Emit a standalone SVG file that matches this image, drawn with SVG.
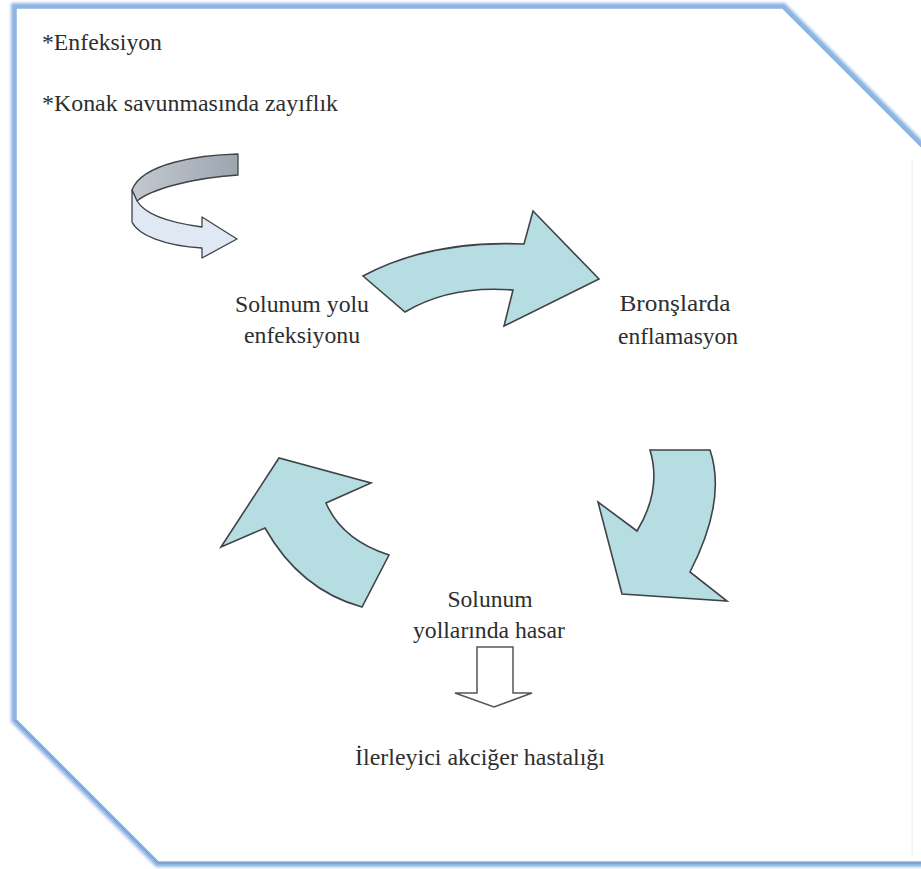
<svg xmlns="http://www.w3.org/2000/svg" width="921" height="869" viewBox="0 0 921 869">
  <defs>
    <filter id="soft" x="-5%" y="-5%" width="110%" height="110%">
      <feGaussianBlur stdDeviation="1.6"/>
    </filter>
    <linearGradient id="backGrad" x1="0" y1="0" x2="1" y2="0">
      <stop offset="0" stop-color="#c3c9d1"/>
      <stop offset="1" stop-color="#9da5af"/>
    </linearGradient>
    <style>
      .txt { font-family: 'Liberation Serif', 'Times New Roman', 'DejaVu Serif', serif; font-size: 23px; fill: #2e2e2e; }
      .mid { text-anchor: middle; }
      .big { fill: #b5dde2; stroke: #3f4346; stroke-width: 1.6; stroke-linejoin: miter; }
      .ribbon { stroke: #3f4346; stroke-width: 1.3; stroke-linejoin: round; }
      .hollow { fill: #ffffff; stroke: #555555; stroke-width: 1.5; }
    </style>
  </defs>

  <rect width="921" height="869" fill="#ffffff"/>

  <g id="frame">
    <polygon points="15,7 783,7 930,154 930,863 158,863 15,720" fill="none" stroke="#8fb5e2" stroke-width="8" filter="url(#soft)"/>
    <polygon points="15,7 783,7 930,154 930,863 158,863 15,720" fill="#ffffff" stroke="#8db4e2" stroke-width="3.5"/>
    <polyline points="15,720 158,863 921,863" fill="none" stroke="#6d87a8" stroke-width="1" opacity="0.7"/>
    <line x1="912" y1="160" x2="912" y2="858" stroke="#ececec" stroke-width="1"/>
  </g>

  <g id="notes">
    <text class="txt" x="42" y="50" font-family="Liberation Serif, serif" textLength="120" lengthAdjust="spacingAndGlyphs">*Enfeksiyon</text>
    <text class="txt" x="42" y="111" font-family="Liberation Serif, serif" textLength="296" lengthAdjust="spacingAndGlyphs">*Konak savunmasında zayıflık</text>
  </g>

  <g id="feedback-arrow">
    <path class="ribbon" fill="url(#backGrad)" d="M238,154 C200,155 142,163 132,190 L137,201 C150,190 190,178 238,175 Z"/>
    <path class="ribbon" fill="#dfe8f3" d="M132,190 L137,201 C145,214 165,222 202,227 L202,217 L237,239 L202,258 L202,248 C165,246 138,235 132,222 Z"/>
  </g>

  <g id="node-infection">
    <text class="txt mid" x="302" y="312" textLength="134" lengthAdjust="spacingAndGlyphs">Solunum yolu</text>
    <text class="txt mid" x="302" y="343" textLength="116" lengthAdjust="spacingAndGlyphs">enfeksiyonu</text>
  </g>

  <g id="node-inflammation">
    <text class="txt mid" x="675" y="311" textLength="111" lengthAdjust="spacingAndGlyphs">Bronşlarda</text>
    <text class="txt mid" x="678" y="344" textLength="120" lengthAdjust="spacingAndGlyphs">enflamasyon</text>
  </g>

  <g id="node-damage">
    <text class="txt mid" x="490" y="607" textLength="85" lengthAdjust="spacingAndGlyphs">Solunum</text>
    <text class="txt mid" x="489" y="638" textLength="152" lengthAdjust="spacingAndGlyphs">yollarında hasar</text>
  </g>

  <g id="node-disease">
    <text class="txt mid" x="480" y="765" textLength="250" lengthAdjust="spacingAndGlyphs">İlerleyici akciğer hastalığı</text>
  </g>

  <g id="connectors">
    <path class="big" d="M363,276 Q430,240 524,244 L533,211 L599,279 L504,326 L513,290 Q450,285 405,312 Z"/>
    <path class="big" d="M650,450 L710,450 Q727,500 690,572 L727,601 L622,594 L598,502 L637,531 Q662,490 650,450 Z"/>
    <path class="big" d="M389,555 L362,607 Q300,590 265,528 L221,547 L279,458 L371,483 L326,503 Q342,540 389,555 Z"/>
    <path class="hollow" d="M477,647 L513,647 L513,693 L532,693 L494,707 L455,693 L477,693 Z"/>
  </g>
</svg>
